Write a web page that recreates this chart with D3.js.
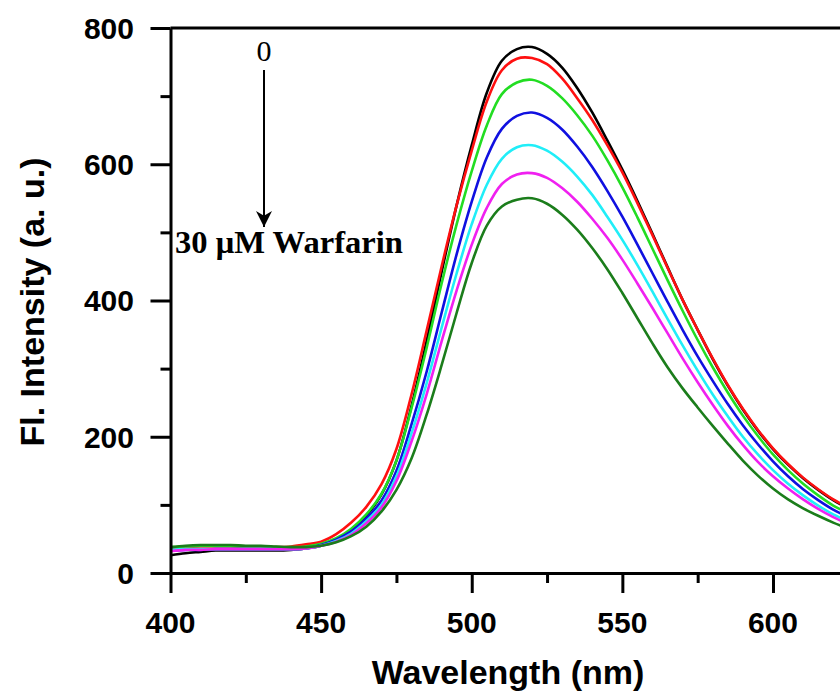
<!DOCTYPE html>
<html>
<head>
<meta charset="utf-8">
<script src="https://cdn.jsdelivr.net/npm/d3@7"></script>
<style>
  body { margin: 0; background: #fff; }
  svg { display: block; }
  .tickLabel { font-family: "Liberation Sans", Arial, sans-serif; font-weight: bold; font-size: 30px; fill: #000; }
  .axisText { font-family: "Liberation Sans", Arial, sans-serif; font-weight: bold; font-size: 34px; fill: #000; }
  .note { font-family: "Liberation Serif", "Times New Roman", serif; fill: #000; }
</style>
</head>
<body>
<div class="chart"></div>
<script>
// wavelength (nm), every 5 nm
var wavelengths = [400,405,410,415,420,425,430,435,440,445,
  450,455,460,465,470,475,480,485,490,495,
  500,505,510,515,520,525,530,535,540,545,
  550,555,560,565,570,575,580,585,590,595,
  600,605,610,615,620,625];

// emission spectra, 0 -> 30 uM warfarin
var black = [26,29,31,33,33,33,33,33,34,36,
  40,48,62,84,115,165,245,340,442,540,
  628,705,752,769,772,762,742,712,676,635,
  592,546,498,449,401,357,314,275,240,209,
  182,159,139,122,107,95];
var red = [36,38,39,39,39,38,38,38,39,42,
  46,57,74,97,130,182,262,355,450,540,
  620,692,738,755,756,747,726,697,665,628,
  588,543,496,448,401,357,315,276,241,210,
  183,160,140,123,108,96];
var green = [38,39,40,40,40,39,39,38,38,39,
  43,51,65,86,116,165,242,330,425,512,
  590,657,703,720,724,715,697,672,642,606,
  566,522,476,430,385,342,302,265,231,201,
  174,151,131,114,99,88];
var blue = [33,34,34,35,35,35,35,35,35,36,
  41,49,61,80,106,150,218,295,382,468,
  545,610,652,671,676,668,651,626,596,561,
  523,482,440,398,357,318,282,248,217,189,
  164,142,123,107,93,82];
var cyan = [34,35,35,35,35,35,35,35,35,36,
  40,47,58,76,100,142,205,278,360,440,
  512,570,608,625,628,620,604,582,555,523,
  489,452,413,373,334,297,262,230,200,174,
  151,131,114,99,86,76];
var magenta = [32,34,34,35,35,35,35,35,35,36,
  40,46,56,73,96,135,193,262,340,415,
  482,536,571,585,587,580,565,545,520,492,
  460,425,389,352,315,280,247,216,188,163,
  142,124,108,94,82,72];
var darkGreen = [38,40,41,41,41,40,40,39,38,38,
  40,45,54,68,90,122,168,232,305,382,
  455,510,538,548,550,542,526,504,477,446,
  411,374,337,302,271,243,216,190,165,143,
  124,108,95,84,74,65];

var seriesColors = ["#000000", "#ff1010", "#22dd22", "#1010e0", "#20eef8", "#f020f0", "#1b7d1b"];
var allSeries = [black, red, green, blue, cyan, magenta, darkGreen];

var xTicks = [400, 450, 500, 550, 600, 650];
var xLabels = [400, 450, 500, 550, 600];
var yTicks = [0, 200, 400, 600, 800];

var svgWidth = 840;
var svgHeight = 694;

var svg = d3.select(".chart")
  .append("svg")
  .attr("width", svgWidth)
  .attr("height", svgHeight);

// Scales (right part of the frame runs off the picture)
var xScale = d3.scaleLinear().domain([400, 650]).range([170.5, 923.6]);
var yScale = d3.scaleLinear().domain([0, 800]).range([573, 28]);

// Spectra
var line = d3.line()
  .x((d, i) => xScale(wavelengths[i]))
  .y(d => yScale(d))
  .curve(d3.curveCatmullRom.alpha(0.5));

svg.append("g").selectAll("path")
  .data(allSeries)
  .enter()
  .append("path")
  .attr("d", d => line(d))
  .attr("fill", "none")
  .attr("stroke", (d, i) => seriesColors[i])
  .attr("stroke-width", 2.6);

// Bottom axis: major ticks every 50, minor every 25
var xMinor = svg.append("g").attr("transform", `translate(0, ${yScale(0)})`)
  .call(d3.axisBottom(xScale).tickValues(d3.range(425, 651, 50)).tickSize(10).tickSizeOuter(0).tickFormat(""));
xMinor.select(".domain").remove();
svg.append("g").attr("transform", `translate(0, ${yScale(0)})`)
  .call(d3.axisBottom(xScale).tickValues(xTicks).tickSize(20).tickSizeOuter(0).tickFormat(""));

// Left axis: major every 200, minor every 100
var yMinor = svg.append("g").attr("transform", `translate(${xScale(400)}, 0)`)
  .call(d3.axisLeft(yScale).tickValues([100, 300, 500, 700]).tickSize(10).tickSizeOuter(0).tickFormat(""));
yMinor.select(".domain").remove();
svg.append("g").attr("transform", `translate(${xScale(400)}, 0)`)
  .call(d3.axisLeft(yScale).tickValues(yTicks).tickSize(20).tickSizeOuter(0).tickFormat(""));

svg.selectAll(".tick line").attr("stroke", "#000").attr("stroke-width", 3);
svg.selectAll(".domain").attr("stroke", "#000").attr("stroke-width", 3);

// Top frame line
svg.append("line")
  .attr("x1", xScale(400)).attr("x2", xScale(650))
  .attr("y1", yScale(800)).attr("y2", yScale(800))
  .attr("stroke", "#000").attr("stroke-width", 3);

// Tick labels
svg.append("g").selectAll("text")
  .data(xLabels)
  .enter()
  .append("text")
  .attr("class", "tickLabel")
  .attr("x", d => xScale(d))
  .attr("y", 633)
  .attr("text-anchor", "middle")
  .text(d => d);

svg.append("g").selectAll("text")
  .data(yTicks)
  .enter()
  .append("text")
  .attr("class", "tickLabel")
  .attr("x", 134)
  .attr("y", d => yScale(d))
  .attr("dy", "0.36em")
  .attr("text-anchor", "end")
  .text(d => d);

// Axis titles
svg.append("text")
  .attr("class", "axisText")
  .attr("transform", "translate(44, 302) rotate(-90)")
  .attr("text-anchor", "middle")
  .text("Fl. Intensity (a. u.)");

svg.append("text")
  .attr("class", "axisText")
  .attr("x", 508)
  .attr("y", 684)
  .attr("text-anchor", "middle")
  .text("Wavelength (nm)");

// Annotation arrow
svg.append("defs").append("marker")
  .attr("id", "head")
  .attr("viewBox", "0 0 10 10")
  .attr("refX", 10).attr("refY", 5)
  .attr("markerWidth", 16).attr("markerHeight", 16)
  .attr("markerUnits", "userSpaceOnUse")
  .attr("orient", "auto")
  .append("path")
  .attr("d", "M0,0 L10,5 L0,10 L3,5 Z")
  .attr("fill", "#000");

svg.append("line")
  .attr("x1", 264).attr("x2", 264)
  .attr("y1", 70).attr("y2", 227)
  .attr("stroke", "#000").attr("stroke-width", 2)
  .attr("marker-end", "url(#head)");

svg.append("text")
  .attr("class", "note")
  .attr("x", 264).attr("y", 61)
  .attr("text-anchor", "middle")
  .style("font-size", "30px")
  .text("0");

svg.append("text")
  .attr("class", "note")
  .attr("x", 175).attr("y", 253)
  .attr("textLength", 228)
  .attr("lengthAdjust", "spacingAndGlyphs")
  .style("font-size", "31px")
  .style("font-weight", "bold")
  .text("30 μM Warfarin");
</script>
</body>
</html>
